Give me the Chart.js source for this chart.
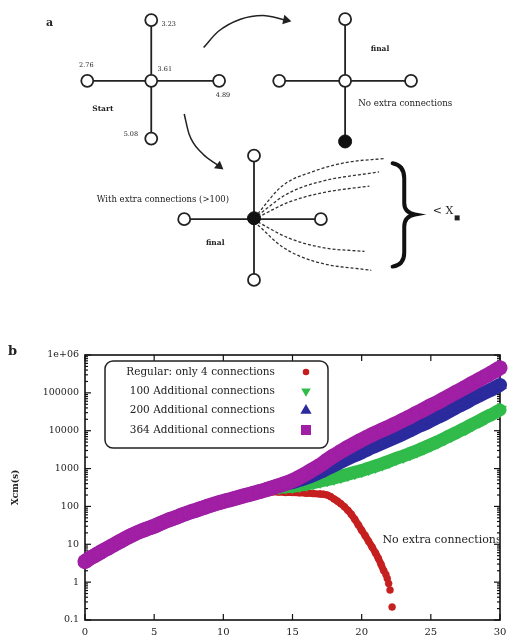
<!DOCTYPE html>
<html>
<head>
<meta charset="utf-8">
<script src="https://cdn.jsdelivr.net/npm/chart.js@4.4.1/dist/chart.umd.min.js"></script>
<style>
  html, body { margin: 0; padding: 0; background: #fff; }
  #panelA { position: absolute; left: 0; top: 0; width: 508px; height: 300px; }
  #panelB { position: absolute; left: 0; top: 338px; width: 508px; height: 300px; }
</style>
</head>
<body>
<div id="panelA"><canvas id="diagram"></canvas></div>
<div id="panelB"><canvas id="chart"></canvas></div>
<script>
// ---------- panel b: values ----------
const seriesLabels = ['Regular: only 4 connections', '100 Additional connections',
                      '200 Additional connections', '364 Additional connections'];
const seriesColors = ['#c61f1f', '#30bb4a', '#2b2b9e', '#a01fa4'];

const tSteps = [0, 0.5, 1, 1.5, 2, 2.5, 3, 3.5, 4, 4.5, 5, 5.5, 6, 6.5, 7, 7.5, 8, 8.5, 9, 9.5,
  10, 10.5, 11, 11.5, 12, 12.5, 13, 13.5, 14, 14.5, 15, 15.5, 16, 16.5, 17, 17.5, 18, 18.5, 19, 19.5,
  20, 20.5, 21, 21.5, 22, 22.5, 23, 23.5, 24, 24.5, 25, 25.5, 26, 26.5, 27, 27.5, 28, 28.5, 29, 29.5, 30];

const purpleY = [3.5, 4.6, 5.8, 7.4, 9.3, 11.7, 14.8, 18.2, 21.9, 25.7,
  30, 36, 43, 50, 59, 69, 79, 91, 105, 120,
  135, 151, 170, 191, 214, 240, 269, 309, 355, 407,
  479, 589, 741, 955, 1230, 1660, 2190, 2820, 3630, 4570,
  5750, 7080, 8710, 10500, 12600, 15500, 19100, 23400, 29500, 36300,
  45700, 56200, 70800, 89100, 112000, 141000, 178000, 224000, 282000, 355000, 457000];

const blueY = [3.5, 4.6, 5.8, 7.4, 9.3, 11.7, 14.8, 18.2, 21.9, 25.7,
  30, 36, 43, 50, 59, 69, 79, 91, 105, 120,
  135, 151, 170, 191, 214, 240, 269, 309, 355, 407,
  437, 501, 575, 676, 813, 1000, 1230, 1510, 1860, 2240,
  2690, 3310, 3980, 4790, 5750, 6920, 8320, 10200, 12600, 15100,
  18600, 22900, 28200, 35500, 44700, 55000, 69200, 85100, 105000, 129000, 162000];

const greenY = [3.5, 4.6, 5.8, 7.4, 9.3, 11.7, 14.8, 18.2, 21.9, 25.7,
  30, 36, 43, 50, 59, 69, 79, 91, 105, 120,
  135, 151, 170, 191, 214, 240, 269, 309, 316, 331,
  339, 363, 389, 427, 468, 513, 562, 631, 708, 794,
  891, 1020, 1170, 1350, 1580, 1860, 2140, 2510, 2950, 3550,
  4270, 5130, 6310, 7760, 9550, 11700, 14800, 18200, 22900, 28200, 35500];

const redX = [0, 0.5, 1, 1.5, 2, 2.5, 3, 3.5, 4, 4.5, 5, 5.5, 6, 6.5, 7, 7.5, 8, 8.5, 9, 9.5,
  10, 10.5, 11, 11.5, 12, 12.5, 13, 13.5, 14, 14.5, 15, 15.5, 16, 16.5, 17,
  17.25, 17.5, 17.75, 18, 18.25, 18.5, 18.75, 19, 19.25, 19.5, 19.75, 20, 20.25, 20.5, 20.75, 21,
  21.2, 21.4, 21.6, 21.75, 21.85, 21.95, 22.05, 22.2];
const redY = [3.5, 4.6, 5.8, 7.4, 9.3, 11.7, 14.8, 18.2, 21.9, 25.7,
  30, 36, 43, 50, 59, 69, 79, 91, 105, 120,
  135, 151, 170, 191, 214, 240, 240, 240, 240, 234, 234, 229, 224, 219, 214,
  209, 200, 182, 158, 138, 117, 98, 79, 62, 46, 33, 23.4, 17, 12, 8.5, 5.9,
  4.3, 2.95, 2.0, 1.6, 1.25, 0.92, 0.62, 0.22];
const redSolidUntil = 53; // past this index the red points stand apart

const xTicks = [0, 5, 10, 15, 20, 25, 30];
const yTicks = [0.1, 1, 10, 100, 1000, 10000, 100000, 1000000];
const yTickLabels = ['0.1', '1', '10', '100', '1000', '10000', '100000', '1e+06'];

// ---------- panel a: diagram geometry (pixel units of the panel) ----------
const openNodeX = [148, 148, 82, 218, 148, 348, 348, 280, 416, 254, 182, 323, 254];
const openNodeY = [77, 13, 77, 77, 138, 77, 12, 77, 77, 156, 223, 223, 287];
const filledNodeX = [348, 254];
const filledNodeY = [141, 222];
const edges = [[148, 13, 148, 138], [82, 77, 218, 77], [348, 12, 348, 141],
               [280, 77, 416, 77], [254, 156, 254, 287], [182, 223, 323, 223]];
const dashedCurves = [
  [[258, 217], [283, 188], [317, 172], [350, 163], [388, 159]],
  [[258, 219], [287, 197], [320, 184], [383, 173]],
  [[258, 221], [290, 205], [325, 195], [373, 188]],
  [[258, 226], [290, 243], [325, 253], [368, 257]],
  [[258, 229], [283, 252], [318, 268], [375, 277]]
];
const arrows = [
  [[202, 42], [217, 25], [240, 12], [263, 8], [287, 13]],
  [[182, 112], [187, 133], [200, 153], [218, 167]]
];
const arrowHeadRotation = [103, 128];
const diagramLabels = [
  { t: 'a', x: 43, y: 16, f: 'bold 11px "DejaVu Serif"' },
  { t: '3.23', x: 166, y: 17, f: '6.5px "DejaVu Serif"' },
  { t: '2.76', x: 81, y: 61, f: '6.5px "DejaVu Serif"' },
  { t: '3.61', x: 162, y: 65, f: '6.5px "DejaVu Serif"' },
  { t: '4.89', x: 222, y: 92, f: '6.5px "DejaVu Serif"' },
  { t: '5.08', x: 127, y: 133, f: '6.5px "DejaVu Serif"' },
  { t: 'Start', x: 98, y: 107, f: 'bold 7.5px "DejaVu Serif"' },
  { t: 'final', x: 384, y: 44, f: 'bold 7.5px "DejaVu Serif"' },
  { t: 'No extra connections', x: 410, y: 101, f: '8.7px "DejaVu Serif"' },
  { t: 'With extra connections (>100)', x: 160, y: 203, f: '8.5px "DejaVu Serif"' },
  { t: 'final', x: 214, y: 248, f: 'bold 7.5px "DejaVu Serif"' },
  { t: '< X', x: 449, y: 215, f: '11px "DejaVu Serif"' }
];

Chart.defaults.font.family = '"DejaVu Serif", serif';
Chart.defaults.color = '#222';

const pts = (xs, ys) => ys.map((y, i) => ({ x: xs[i], y: y }));

// ---------- panel a ----------
const diagramText = {
  id: 'diagramText',
  afterDraw(chart) {
    const { ctx, scales: { x, y } } = chart;
    const X = v => x.getPixelForValue(v), Y = v => y.getPixelForValue(v);
    ctx.save();
    ctx.fillStyle = '#222';
    ctx.textAlign = 'center';
    ctx.textBaseline = 'middle';
    diagramLabels.forEach(l => {
      ctx.font = l.f;
      ctx.fillText(l.t, X(l.x), Y(l.y));
    });
    // small subscript mark after X
    ctx.fillRect(X(461), Y(219), 5, 5);
    // curly brace
    ctx.strokeStyle = '#111';
    ctx.lineWidth = 4;
    ctx.lineCap = 'round';
    ctx.beginPath();
    ctx.moveTo(X(397), Y(164));
    ctx.quadraticCurveTo(X(409), Y(166), X(409), Y(180));
    ctx.lineTo(X(409), Y(206));
    ctx.quadraticCurveTo(X(409), Y(216), X(420), Y(218));
    ctx.quadraticCurveTo(X(409), Y(220), X(409), Y(231));
    ctx.lineTo(X(409), Y(258));
    ctx.quadraticCurveTo(X(409), Y(271), X(397), Y(273));
    ctx.stroke();
    ctx.restore();
  }
};

const diagramSets = [];
edges.forEach(e => diagramSets.push({
  data: [{ x: e[0], y: e[1] }, { x: e[2], y: e[3] }],
  showLine: true, borderColor: '#222', borderWidth: 1.8, pointRadius: 0, order: 5
}));
dashedCurves.forEach(c => diagramSets.push({
  data: c.map(p => ({ x: p[0], y: p[1] })),
  showLine: true, borderColor: '#333', borderWidth: 1.3, borderDash: [3, 2],
  cubicInterpolationMode: 'monotone', pointRadius: 0, order: 5
}));
arrows.forEach((c, k) => diagramSets.push({
  data: c.map(p => ({ x: p[0], y: p[1] })),
  showLine: true, borderColor: '#222', borderWidth: 1.5,
  cubicInterpolationMode: 'monotone',
  pointStyle: 'triangle', pointRotation: arrowHeadRotation[k],
  pointRadius: ctx => ctx.dataIndex === c.length - 1 ? 4 : 0,
  backgroundColor: '#222', order: 5
}));
diagramSets.push({
  data: pts(openNodeX, openNodeY),
  pointRadius: 6, backgroundColor: '#fff', borderColor: '#222', borderWidth: 1.8, order: 1
});
diagramSets.push({
  data: pts(filledNodeX, filledNodeY),
  pointRadius: 6.5, backgroundColor: '#111', borderColor: '#111', borderWidth: 1, order: 1
});

new Chart(document.getElementById('diagram'), {
  type: 'scatter',
  data: { datasets: diagramSets },
  options: {
    responsive: true, maintainAspectRatio: false, animation: false, events: [],
    layout: { padding: 0 },
    clip: false,
    plugins: { legend: { display: false }, tooltip: { enabled: false } },
    scales: {
      x: { type: 'linear', min: 0, max: 508, display: false },
      y: { type: 'linear', min: 0, max: 300, reverse: true, display: false }
    }
  },
  plugins: [diagramText]
});

// ---------- panel b ----------
const frameAndLegend = {
  id: 'frameAndLegend',
  beforeDatasetsDraw(chart) {
    const { ctx, chartArea: { left, right, top, bottom }, scales: { x, y } } = chart;
    ctx.save();
    ctx.strokeStyle = '#111';
    ctx.lineWidth = 1.6;
    ctx.strokeRect(left, top, right - left, bottom - top);
    ctx.lineWidth = 1.2;
    const seg = (x1, y1, x2, y2) => { ctx.beginPath(); ctx.moveTo(x1, y1); ctx.lineTo(x2, y2); ctx.stroke(); };
    xTicks.forEach(v => {
      const p = x.getPixelForValue(v);
      seg(p, bottom, p, bottom - 6);
      seg(p, top, p, top + 6);
    });
    yTicks.forEach((v, i) => {
      const p = y.getPixelForValue(v);
      seg(left, p, left + 6, p);
      seg(right, p, right - 6, p);
      if (i < yTicks.length - 1) {
        for (let m = 2; m <= 9; m++) {
          const q = y.getPixelForValue(v * m);
          seg(left, q, left + 3, q);
          seg(right, q, right - 3, q);
        }
      }
    });
    ctx.restore();
  },
  afterDraw(chart) {
    const { ctx, chartArea: { left, right, top, bottom }, scales: { x, y } } = chart;
    ctx.save();
    ctx.fillStyle = '#222';
    ctx.textBaseline = 'middle';
    // x tick labels (drawn here so the last one may run off the edge like the figure)
    ctx.font = '10px "DejaVu Serif"';
    ctx.textAlign = 'center';
    xTicks.forEach(v => ctx.fillText(String(v), x.getPixelForValue(v), bottom + 12));
    // panel letter
    ctx.font = 'bold 13px "DejaVu Serif"';
    ctx.textAlign = 'left';
    ctx.fillText('b', 8, 14);
    // note on the red curve, cut at the frame as in the figure
    ctx.save();
    ctx.beginPath();
    ctx.rect(left, top, right - left - 1, bottom - top);
    ctx.clip();
    ctx.font = '11px "DejaVu Serif"';
    ctx.fillText('No extra connections', x.getPixelForValue(21.5), y.getPixelForValue(12.8));
    ctx.restore();
    // legend box
    const bx = left + 20, by = top + 6, bw = 223, bh = 87;
    ctx.fillStyle = '#fff';
    ctx.strokeStyle = '#222';
    ctx.lineWidth = 1.5;
    ctx.beginPath();
    ctx.roundRect(bx, by, bw, bh, 8);
    ctx.fill();
    ctx.stroke();
    ctx.font = '10.5px "DejaVu Serif"';
    ctx.textAlign = 'right';
    const styles = ['circle', 'triangle', 'triangle', 'rect'];
    const sizes = [2.5, 4, 5, 6];
    const rots = [0, 180, 0, 0];
    seriesLabels.forEach((lab, i) => {
      const ry = top + 17 + i * 19.3;
      ctx.fillStyle = '#222';
      ctx.fillText(lab, left + 190, ry);
      ctx.fillStyle = seriesColors[i];
      ctx.strokeStyle = seriesColors[i];
      Chart.helpers.drawPoint(ctx, { pointStyle: styles[i], radius: sizes[i], rotation: rots[i], borderWidth: 1 },
        left + 221, ry);
    });
    ctx.restore();
  }
};

// each series: dense markers plus a thick stroke through them so they read as one band
const dataset = (i, xs, ys, style, r, rot, band, order) => ({
  label: seriesLabels[i],
  data: pts(xs, ys),
  showLine: true,
  borderWidth: band,
  borderColor: seriesColors[i],
  borderCapStyle: 'round',
  borderJoinStyle: 'round',
  cubicInterpolationMode: 'monotone',
  backgroundColor: seriesColors[i],
  pointBorderColor: seriesColors[i],
  pointBorderWidth: 0.5,
  pointStyle: style,
  pointRadius: r,
  pointRotation: rot,
  order: order
});

const redSet = dataset(0, redX, redY, 'circle', 3.5, 0, 7, 4);
redSet.segment = {
  borderColor: ctx => ctx.p1DataIndex > redSolidUntil ? 'rgba(0,0,0,0)' : seriesColors[0]
};

new Chart(document.getElementById('chart'), {
  type: 'scatter',
  data: {
    datasets: [
      redSet,
      dataset(1, tSteps, greenY, 'triangle', 7.5, 180, 13, 3),
      dataset(2, tSteps, blueY, 'triangle', 7.5, 0, 14, 2),
      dataset(3, tSteps, purpleY, 'rect', 7.5, 0, 15, 1)
    ]
  },
  options: {
    responsive: true, maintainAspectRatio: false, animation: false, events: [],
    clip: false,
    layout: { padding: { top: 17, right: 6, left: 0, bottom: 0 } },
    plugins: { legend: { display: false }, tooltip: { enabled: false } },
    scales: {
      x: {
        type: 'linear', min: 0, max: 30,
        grid: { display: false, drawTicks: false },
        border: { display: false },
        ticks: { display: false },
        afterFit: s => { s.height = 18; }
      },
      y: {
        type: 'logarithmic', min: 0.1, max: 1000000,
        grid: { display: false, drawTicks: false },
        border: { display: false },
        afterBuildTicks: s => { s.ticks = yTicks.map(v => ({ value: v })); },
        ticks: {
          padding: 6, color: '#222', font: { size: 9.5 }, autoSkip: false,
          callback: (v, i) => yTickLabels[i]
        },
        title: {
          display: true, text: 'Xcm(s)', color: '#222',
          font: { size: 9, weight: 'bold' }, padding: { top: 10, bottom: 0 }
        },
        afterFit: s => { s.width = 85; }
      }
    }
  },
  plugins: [frameAndLegend]
});
</script>
</body>
</html>
